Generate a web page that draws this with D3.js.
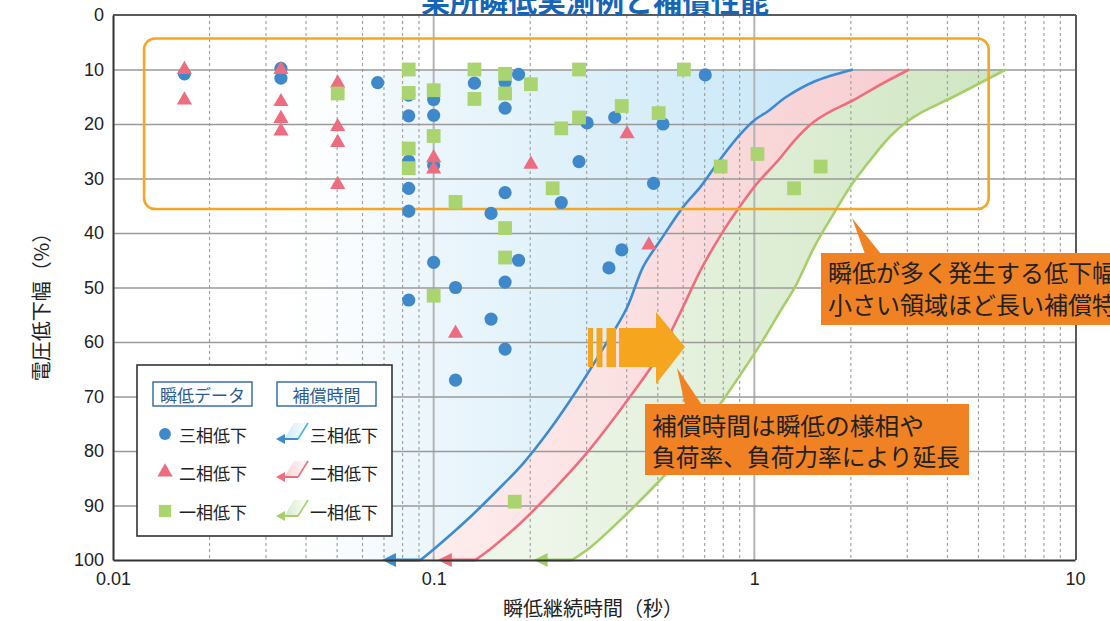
<!DOCTYPE html>
<html><head><meta charset="utf-8">
<script src="https://cdn.jsdelivr.net/npm/d3@7"></script>
<style>body{margin:0;background:#fff}svg{display:block}</style>
</head><body><svg id="chart" width="1110" height="621"></svg>
<script>
// ---- data: [duration (s), voltage drop (%)] ----
const threePhase = [[0.0167,10.8],[0.0334,9.8],[0.0334,11.6],[0.0669,12.4],[0.0836,14.7],[0.0836,18.5],[0.0836,26.8],[0.0836,31.8],[0.0836,36.0],[0.0836,52.3],[0.100,15.5],[0.100,18.4],[0.100,27.5],[0.100,45.4],[0.117,50.0],[0.117,67.0],[0.134,12.5],[0.151,36.4],[0.151,55.8],[0.167,12.3],[0.167,17.1],[0.167,32.6],[0.167,49.0],[0.167,61.3],[0.184,10.9],[0.184,45.0],[0.250,34.4],[0.284,26.9],[0.301,19.8],[0.352,46.4],[0.367,18.8],[0.386,43.1],[0.485,30.9],[0.519,20.0],[0.703,11.0]];
const twoPhase = [[0.0167,10.0],[0.0167,15.6],[0.0334,10.0],[0.0334,15.9],[0.0334,19.0],[0.0334,21.3],[0.0502,12.5],[0.0502,20.5],[0.0502,23.4],[0.0502,31.1],[0.100,26.2],[0.100,28.3],[0.117,58.4],[0.201,27.4],[0.401,21.8],[0.469,42.2]];
const onePhase = [[0.0502,14.4],[0.0836,10.0],[0.0836,14.3],[0.0836,24.5],[0.0836,28.1],[0.100,13.8],[0.100,22.2],[0.100,51.5],[0.117,34.3],[0.134,10.0],[0.134,15.4],[0.167,10.8],[0.167,14.4],[0.167,39.1],[0.167,44.5],[0.179,89.3],[0.201,12.7],[0.235,31.8],[0.250,20.8],[0.284,18.8],[0.284,10.0],[0.386,16.7],[0.503,18.0],[0.603,10.0],[0.785,27.8],[1.023,25.5],[1.33,31.8],[1.61,27.8]];

// compensation-time boundaries (top -> bottom), plus where each arrow at 100% points
const blueCurve = [[2.03,10],[1.54,12.2],[1.26,15],[1.1,17.7],[1.0,19.3],[0.9,22],[0.78,26.6],[0.68,31.5],[0.60,35.2],[0.51,41.3],[0.45,46.2],[0.40,53.8],[0.34,60.9],[0.28,68.8],[0.23,76.1],[0.19,82.3],[0.158,87.2],[0.13,92.1],[0.102,97.6],[0.091,100]];
const redCurve = [[3.04,10],[2.47,12.8],[2.04,15.6],[1.69,18],[1.51,19.9],[1.34,22.9],[1.19,26.6],[1.02,30.9],[0.90,35.2],[0.78,40.7],[0.68,46.8],[0.60,53.5],[0.50,62.7],[0.41,70],[0.30,80.4],[0.242,86.5],[0.186,93.3],[0.153,97.6],[0.135,100]];
const greenCurve = [[6.09,10],[4.18,15],[3.29,18],[2.99,19.6],[2.65,22.3],[2.30,26.6],[1.99,31.5],[1.77,36.4],[1.54,42.5],[1.34,49.9],[1.22,53.8],[1.05,60.2],[0.80,70.6],[0.63,79.2],[0.515,85],[0.391,92.1],[0.309,97.6],[0.27,100]];
const arrowTips = [0.069, 0.103, 0.205];

const xTicks = [0.01, 0.1, 1, 10];
const xTickLabels = ["0.01", "0.1", "1", "10"];
const yTicks = [0,10,20,30,40,50,60,70,80,90,100];
const minorX = [0.02,0.03,0.04,0.05,0.06,0.07,0.08,0.09,0.2,0.3,0.4,0.5,0.6,0.7,0.8,0.9,2,3,4,5,6,7,8,9];
const seriesNames = ["三相低下", "二相低下", "一相低下"];
const legendHeads = ["瞬低データ", "補償時間"];
const titleText = "某所瞬低実測例と補償性能";
const xTitle = "瞬低継続時間（秒）";
const yTitle = "電圧低下幅（%）";
const note1 = ["瞬低が多く発生する低下幅が", "小さい領域ほど長い補償特性"];
const note2 = ["補償時間は瞬低の様相や", "負荷率、負荷力率により延長"];

// ---- styles ----
const COL = {
  blue: "#3f88c9", red: "#ee6c80", green: "#a9d470",
  lineBlue: "#3d8bd0", lineRed: "#ee6e7f", lineGreen: "#a6cf6a",
  orange: "#f5a623", callout: "#f08224"
};
const NUM_FONT = "'Liberation Sans', Arial, sans-serif";
const JP_FONT = "'Noto Sans CJK JP', 'Noto Sans', sans-serif";

const svg = d3.select("#chart");
const x = d3.scaleLog().domain([0.01, 10]).range([113, 1075]);
const y = d3.scaleLinear().domain([0, 100]).range([15, 560]);
const [X0, X1] = x.range(), [Y0, Y1] = y.range();

const defs = svg.append("defs");
defs.append("clipPath").attr("id", "plotClip").append("rect")
  .attr("x", X0).attr("y", Y0).attr("width", X1 - X0).attr("height", Y1 - Y0);

function grad(id, x1, x2, stops) {
  const g = defs.append("linearGradient").attr("id", id)
    .attr("gradientUnits", "userSpaceOnUse")
    .attr("x1", x1).attr("x2", x2).attr("y1", 0).attr("y2", 0);
  stops.forEach(s => g.append("stop").attr("offset", s[0]).attr("stop-color", s[1]).attr("stop-opacity", s[2] ?? 1));
}
grad("gBlue", x(0.028), x(2.1), [[0, "#ffffff", 0], [0.25, "#eef7fc"], [1, "#c4e5f7"]]);
grad("gPink", x(0.09), x(3.1), [[0, "#feeeee"], [1, "#f7cdd0"]]);
grad("gGreen", x(0.2), x(6.1), [[0, "#eef6ea"], [1, "#cfe6c1"]]);
// small legend swatches
grad("lBlue", 283, 308, [[0, "#c9e9f8"], [1, "#ffffff"]]);
grad("lPink", 283, 308, [[0, "#f9cdd2"], [1, "#ffffff"]]);
grad("lGreen", 283, 308, [[0, "#d3e8c6"], [1, "#ffffff"]]);

const plot = svg.append("g").attr("clip-path", "url(#plotClip)");

// ---- shaded compensation bands ----
const line = d3.line().x(d => x(d[0])).y(d => y(d[1])).curve(d3.curveCatmullRom.alpha(0.5));
const pBlue = line(blueCurve), pRed = line(redCurve), pGreen = line(greenCurve);
const rev = a => a.slice().reverse();
plot.append("path")
  .attr("d", `M${X0},${y(10)}L` + pBlue.slice(1) + `L${X0},${y(100)}Z`)
  .attr("fill", "url(#gBlue)");
plot.append("path")
  .attr("d", pBlue + "L" + line(rev(redCurve)).slice(1) + "Z")
  .attr("fill", "url(#gPink)");
plot.append("path")
  .attr("d", pRed + "L" + line(rev(greenCurve)).slice(1) + "Z")
  .attr("fill", "url(#gGreen)");

// ---- grid ----
plot.append("g").selectAll("line").data(minorX).join("line")
  .attr("x1", d => x(d)).attr("x2", d => x(d)).attr("y1", Y0).attr("y2", Y1)
  .attr("stroke", "#9d9d9d").attr("stroke-width", 1.1).attr("stroke-dasharray", "3,3");
plot.append("g").selectAll("line").data([0.1, 1]).join("line")
  .attr("x1", d => x(d)).attr("x2", d => x(d)).attr("y1", Y0).attr("y2", Y1)
  .attr("stroke", "#b4b4b4").attr("stroke-width", 2);
plot.append("g").call(d3.axisLeft(y).tickValues(yTicks.slice(1, -1)).tickSize(-(X1 - X0)).tickFormat(""))
  .attr("transform", `translate(${X0},0)`)
  .call(g => g.select(".domain").remove())
  .call(g => g.selectAll("line").attr("stroke", "#9a9a9a").attr("stroke-width", 1.4));

// ---- boundary curves and arrows at 100% ----
const curveSets = [[blueCurve, pBlue, COL.lineBlue], [redCurve, pRed, COL.lineRed], [greenCurve, pGreen, COL.lineGreen]];
curveSets.forEach(([data, p, c], i) => {
  plot.append("path").attr("d", p).attr("fill", "none").attr("stroke", c).attr("stroke-width", 2.6);
  const bx = x(data[data.length - 1][0]), tip = x(arrowTips[i]), yy = y(100);
  svg.append("line").attr("x1", bx).attr("x2", tip + 10).attr("y1", yy).attr("y2", yy)
    .attr("stroke", c).attr("stroke-width", 3);
  svg.append("path").attr("d", `M${tip},${yy}L${tip + 14},${yy - 7}L${tip + 14},${yy + 7}Z`).attr("fill", c);
});

// ---- frequent-sag zone outline ----
svg.append("rect")
  .attr("x", x(0.0125)).attr("y", y(4.3))
  .attr("width", x(5.38) - x(0.0125)).attr("height", y(35.6) - y(4.3))
  .attr("rx", 11).attr("ry", 11)
  .attr("fill", "none").attr("stroke", COL.orange).attr("stroke-width", 2.6);

// ---- measured sag points (circles under triangles under squares) ----
const sym = (type, size) => d3.symbol().type(type).size(size)();
const pts = svg.append("g");
pts.selectAll(".ci").data(threePhase).join("path").attr("class", "ci")
  .attr("d", sym(d3.symbolCircle, 136))
  .attr("transform", d => `translate(${x(d[0])},${y(d[1])})`).attr("fill", COL.blue);
pts.selectAll(".tr").data(twoPhase).join("path").attr("class", "tr")
  .attr("d", sym(d3.symbolTriangle, 100))
  .attr("transform", d => `translate(${x(d[0])},${y(d[1])})`).attr("fill", COL.red);
pts.selectAll(".sq").data(onePhase).join("path").attr("class", "sq")
  .attr("d", sym(d3.symbolSquare, 190))
  .attr("transform", d => `translate(${x(d[0])},${y(d[1])})`).attr("fill", COL.green);

// ---- frame and axes ----
svg.append("line").attr("x1", X0).attr("x2", X1 + 1).attr("y1", Y0).attr("y2", Y0).attr("stroke", "#5a5a5a").attr("stroke-width", 2);
svg.append("line").attr("x1", X1 + 1).attr("x2", X1 + 1).attr("y1", Y0).attr("y2", Y1).attr("stroke", "#5a5a5a").attr("stroke-width", 2);

const yAxis = svg.append("g").attr("transform", `translate(${X0},0)`)
  .call(d3.axisLeft(y).tickValues(yTicks).tickSize(0).tickPadding(9));
yAxis.select(".domain").attr("stroke", "#333").attr("stroke-width", 2);
yAxis.selectAll("text").attr("font-family", NUM_FONT).attr("font-size", 18).attr("fill", "#222");

const xAxis = svg.append("g").attr("transform", `translate(0,${Y1})`)
  .call(d3.axisBottom(x).tickValues(xTicks).tickFormat((d, i) => xTickLabels[i]).tickSize(0).tickPadding(12));
xAxis.select(".domain").attr("stroke", "#333").attr("stroke-width", 2);
xAxis.selectAll("text").attr("font-family", NUM_FONT).attr("font-size", 18).attr("fill", "#222");

svg.append("text").attr("x", 593).attr("y", 607).attr("text-anchor", "middle").attr("dominant-baseline", "central")
  .attr("font-family", JP_FONT).attr("font-size", 20).attr("fill", "#222").text(xTitle);
svg.append("text").attr("transform", "translate(40,302) rotate(-90)").attr("text-anchor", "middle").attr("dominant-baseline", "central")
  .attr("font-family", JP_FONT).attr("font-size", 20).attr("fill", "#222").text(yTitle);

// title (runs off the top edge)
svg.append("text").attr("x", 595).attr("y", 0).attr("text-anchor", "middle").attr("dominant-baseline", "central")
  .attr("font-family", JP_FONT).attr("font-weight", 700).attr("font-size", 29).attr("fill", "#1565b8").text(titleText);

// ---- legend ----
const lg = svg.append("g");
lg.append("rect").attr("x", 137).attr("y", 365).attr("width", 255).attr("height", 171)
  .attr("fill", "#fff").attr("stroke", "#333").attr("stroke-width", 1.6);
legendHeads.forEach((t, i) => {
  const bx = 153 + i * 124;
  lg.append("rect").attr("x", bx).attr("y", 382).attr("width", 99).attr("height", 24)
    .attr("fill", "#fff").attr("stroke", "#3a6fa8").attr("stroke-width", 1.5);
  lg.append("text").attr("x", bx + 49.5).attr("y", 394).attr("text-anchor", "middle").attr("dominant-baseline", "central")
    .attr("font-family", JP_FONT).attr("font-size", 17).attr("fill", "#2b5c93").text(t);
});
const legendSyms = [[d3.symbolCircle, 110, COL.blue], [d3.symbolTriangle, 100, COL.red], [d3.symbolSquare, 150, COL.green]];
const legendLines = [[COL.lineBlue, "url(#lBlue)", "#45b6e8"], [COL.lineRed, "url(#lPink)", COL.lineRed], [COL.lineGreen, "url(#lGreen)", COL.lineGreen]];
const rowY = [434, 472, 511];
seriesNames.forEach((name, i) => {
  const ry = rowY[i];
  lg.append("path").attr("d", sym(legendSyms[i][0], legendSyms[i][1]))
    .attr("transform", `translate(165,${ry})`).attr("fill", legendSyms[i][2]);
  lg.append("text").attr("x", 179).attr("y", ry).attr("dominant-baseline", "central")
    .attr("font-family", JP_FONT).attr("font-size", 17).attr("fill", "#222").text(name);
  const [lc, fillG, diagC] = legendLines[i];
  const by = ry + 5, ty = ry - 11;
  lg.append("path").attr("d", `M284,${by}L298,${by}L308,${ty}L294,${ty}Z`).attr("fill", fillG);
  lg.append("path").attr("d", `M298,${by}L308,${ty}`).attr("stroke", diagC).attr("stroke-width", 1.6).attr("fill", "none");
  lg.append("line").attr("x1", 283).attr("x2", 298).attr("y1", by).attr("y2", by).attr("stroke", lc).attr("stroke-width", 2);
  lg.append("path").attr("d", `M276,${by}L285,${by - 5}L285,${by + 5}Z`).attr("fill", lc);
  lg.append("text").attr("x", 310).attr("y", ry).attr("dominant-baseline", "central")
    .attr("font-family", JP_FONT).attr("font-size", 17).attr("fill", "#222").text(name);
});

// ---- big orange arrow ----
const ar = svg.append("g").attr("fill", "#f6a51e");
[[588, 5], [596.5, 6], [606.5, 9.5]].forEach(b => ar.append("rect").attr("x", b[0]).attr("y", 328).attr("width", b[1]).attr("height", 39));
ar.append("path").attr("d", "M619,328L656,328L656,312L685,347L656,384L656,367L619,367Z");

// ---- callouts ----
function callout(boxX, boxY, boxW, boxH, pointer, lines, textX, lineYs, fs, fitWidths) {
  const g = svg.append("g");
  g.append("path").attr("d", `M${pointer[0][0]},${pointer[0][1]}L${pointer[1][0]},${pointer[1][1]}L${pointer[2][0]},${pointer[2][1]}Z`).attr("fill", COL.callout);
  g.append("rect").attr("x", boxX).attr("y", boxY).attr("width", boxW).attr("height", boxH).attr("fill", COL.callout);
  lines.forEach((s, i) => {
    const t = g.append("text").attr("x", textX).attr("y", lineYs[i]).attr("dominant-baseline", "central")
      .attr("font-family", JP_FONT).attr("font-size", fs).attr("fill", "#222").text(s);
    if (fitWidths && fitWidths[i]) t.attr("textLength", fitWidths[i]).attr("lengthAdjust", "spacingAndGlyphs");
  });
}
callout(821, 253, 320, 72, [[852, 218], [865, 254], [881, 254]], note1, 828, [271, 303], 24);
callout(645, 404, 324, 71, [[677, 368], [685, 405], [702, 405]], note2, 652, [424, 455], 24, [272, 308]);
</script></body></html>
